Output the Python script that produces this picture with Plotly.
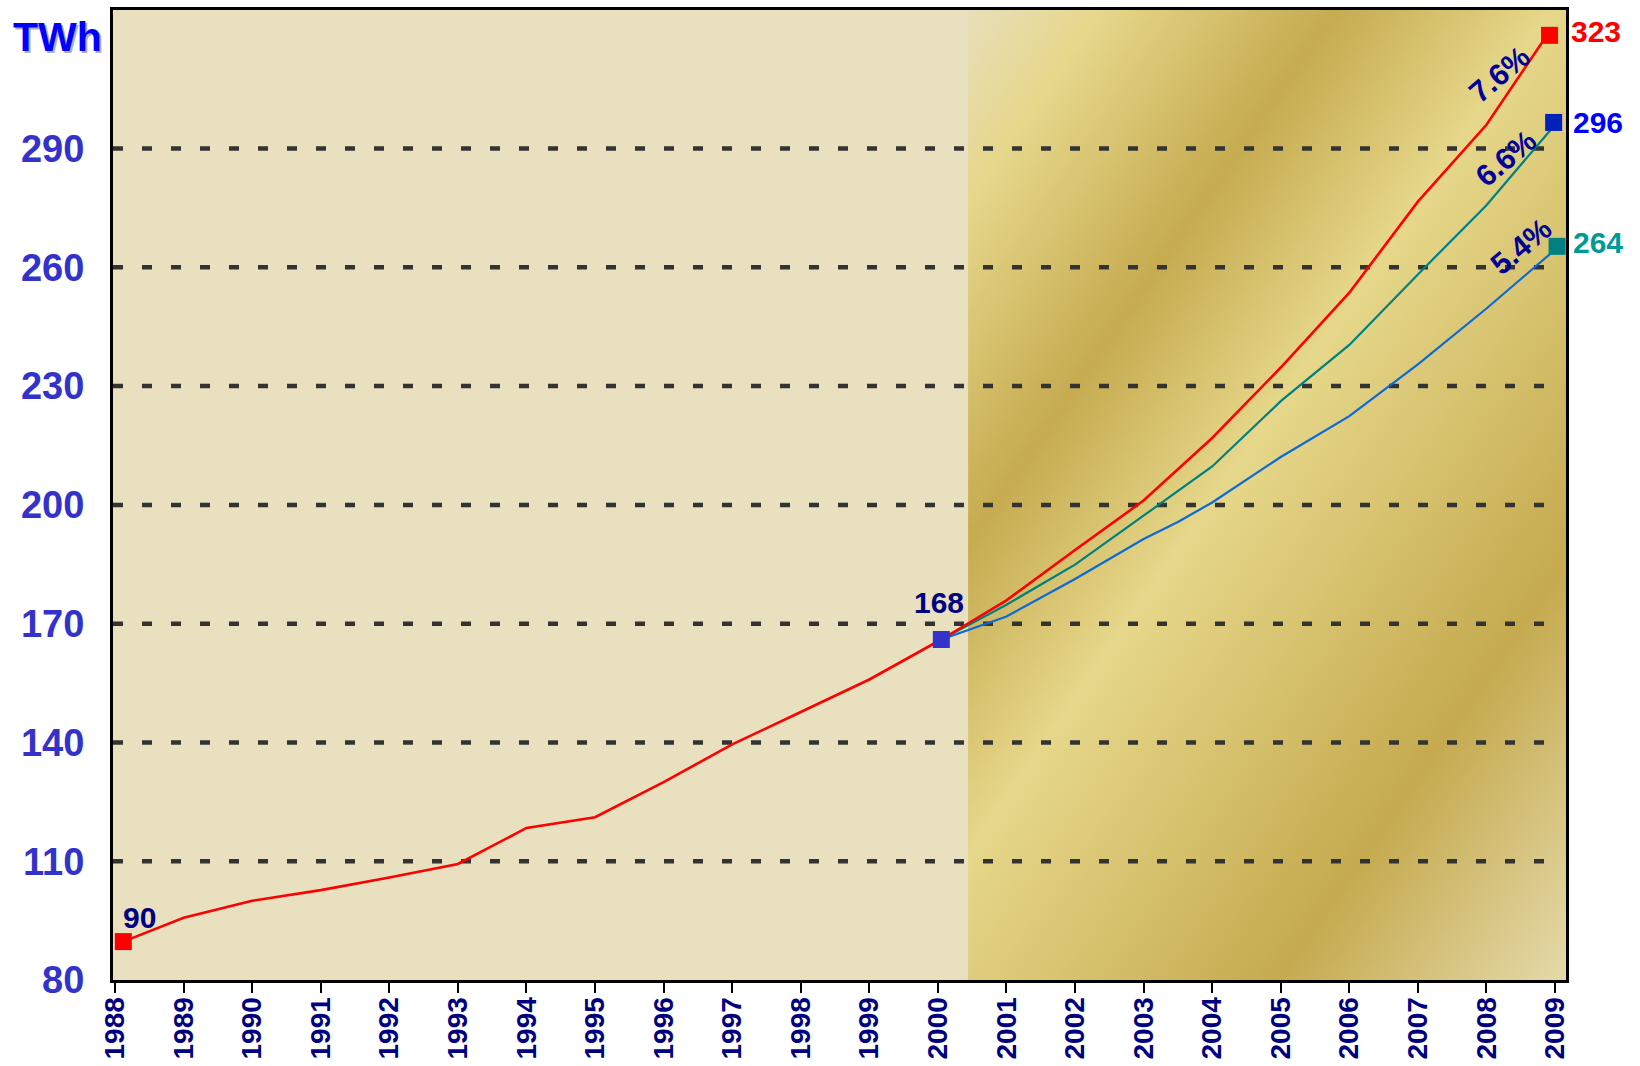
import base64
import plotly.graph_objects as go

# ---------------- data ----------------
hist_years = [1988.12, 1989, 1990, 1991, 1992, 1993, 1994, 1995, 1996, 1997, 1998, 1999, 2000.05]
hist_twh = [89.7, 95.7, 100.0, 102.7, 105.9, 109.3, 118.4, 121.1, 130.0, 139.5, 147.7, 155.9, 166.0]

high_years = [2000.05, 2001, 2002, 2003, 2004, 2005, 2006, 2007, 2008, 2008.85]
high_twh = [166.0, 175.9, 188.6, 201.1, 216.9, 234.7, 253.6, 276.6, 296.0, 317.8]

mid_years = [2000.05, 2001, 2002, 2003, 2004, 2005, 2006, 2007, 2008, 2008.95]
mid_twh = [166.0, 174.8, 184.9, 197.3, 209.7, 226.2, 240.4, 258.2, 275.7, 295.0]

low_years = [2000.05, 2001, 2002, 2003, 2003.5, 2004, 2005, 2006, 2007, 2008, 2008.97]
low_twh = [166.0, 171.8, 181.3, 191.4, 195.7, 200.6, 212.1, 222.4, 235.5, 249.6, 264.0]

end_years = [2008.92, 2008.98, 2009.03]
end_twh = [318.6, 296.6, 265.3]
end_labels = ["323", "296", "264"]
growth_labels = ["7.6%", "6.6%", "5.4%"]
start_label = "90"
base_label = "168"
unit_label = "TWh"

year_ticks = list(range(1988, 2010))
twh_ticks = [80, 110, 140, 170, 200, 230, 260, 290]
grid_twh = [110, 140, 170, 200, 230, 260, 290]

# ---------------- styling ----------------
FONT = "Arial, Liberation Sans, Helvetica, sans-serif"
X_RANGE = [1987.97, 2009.16]
Y_RANGE = [80, 325]
GOLD_START = 2000.44
NAVY = "#000080"

# diagonal gold gradient as svg
W, H = 598, 970
svg = f'''<svg xmlns="http://www.w3.org/2000/svg" width="{W}" height="{H}" viewBox="0 0 {W} {H}" preserveAspectRatio="none">
<defs><linearGradient id="g" gradientUnits="userSpaceOnUse" x1="0" y1="0" x2="858" y2="592">
<stop offset="0" stop-color="#E8DFBA"/>
<stop offset="0.105" stop-color="#E6D78B"/>
<stop offset="0.29" stop-color="#C6AB50"/>
<stop offset="0.46" stop-color="#E6D78A"/>
<stop offset="0.773" stop-color="#C5AA4F"/>
<stop offset="1" stop-color="#E4D9A9"/>
</linearGradient></defs>
<rect x="0" y="0" width="{W}" height="{H}" fill="url(#g)"/>
</svg>'''
svg_uri = "data:image/svg+xml;base64," + base64.b64encode(svg.encode()).decode()

fig = go.Figure()

fig.add_trace(go.Scatter(x=hist_years, y=hist_twh, mode="lines",
                         line=dict(color="#FF0000", width=2.6), hoverinfo="skip"))
fig.add_trace(go.Scatter(x=low_years, y=low_twh, mode="lines",
                         line=dict(color="#0A6AD6", width=2.2), hoverinfo="skip"))
fig.add_trace(go.Scatter(x=mid_years, y=mid_twh, mode="lines",
                         line=dict(color="#008080", width=2.2), hoverinfo="skip"))
fig.add_trace(go.Scatter(x=high_years, y=high_twh, mode="lines",
                         line=dict(color="#FF0000", width=2.6), hoverinfo="skip"))

# markers
fig.add_trace(go.Scatter(x=[hist_years[0]], y=[hist_twh[0]], mode="markers", cliponaxis=False,
                         marker=dict(symbol="square", size=17, color="#FF0000"), hoverinfo="skip"))
fig.add_trace(go.Scatter(x=[hist_years[-1]], y=[hist_twh[-1]], mode="markers", cliponaxis=False,
                         marker=dict(symbol="square", size=17, color="#3333CC"), hoverinfo="skip"))
fig.add_trace(go.Scatter(x=end_years, y=end_twh, mode="markers", cliponaxis=False,
                         marker=dict(symbol="square", size=17, color=["#FF0000", "#0022BB", "#008080"]),
                         hoverinfo="skip"))

# gridlines
shapes = []
for v in grid_twh:
    shapes.append(dict(type="line", xref="x", yref="y", x0=X_RANGE[0], x1=2009.0, y0=v, y1=v,
                       line=dict(color="#333333", width=4.5, dash="10px,19px"), layer="between"))

annotations = []


def ann(x, y, text, size, color, xref="x", yref="y", angle=0, xshift=0, yshift=0):
    annotations.append(dict(x=x, y=y, xref=xref, yref=yref, text=f"<b>{text}</b>",
                            showarrow=False, xanchor="center", yanchor="middle",
                            textangle=angle, xshift=xshift, yshift=yshift,
                            font=dict(family=FONT, size=size, color=color)))


# unit label with shadow
ann(-0.0385, 0.972, unit_label, 41, "#B0B0B0", "paper", "paper", xshift=2, yshift=-2)
ann(-0.0385, 0.972, unit_label, 41, "#0000FF", "paper", "paper")
ann(1988.35, 95.8, start_label, 30, NAVY)
ann(2000.01, 175.4, base_label, 30, NAVY)
end_pos = [(1.0206, 0.978, "#FF0000"), (1.022, 0.884, "#0000FF"), (1.022, 0.760, "#009999")]
for (x, y, c), t in zip(end_pos, end_labels):
    ann(x, y, t, 30, c, "paper", "paper")
grow_pos = [(2008.18, 308.8), (2008.28, 287.4), (2008.50, 265.2)]
for (x, y), t in zip(grow_pos, growth_labels):
    ann(x, y, t, 30, "#000099", angle=-40)

fig.update_layout(
    width=1640, height=1066,
    margin=dict(l=113, r=74, t=10, b=86, autoexpand=False),
    paper_bgcolor="white",
    plot_bgcolor="#E8E0BE",
    showlegend=False,
    shapes=shapes,
    annotations=annotations,
    images=[dict(source=svg_uri, xref="x", yref="y", x=GOLD_START, y=Y_RANGE[1],
                 sizex=X_RANGE[1] - GOLD_START, sizey=Y_RANGE[1] - Y_RANGE[0],
                 xanchor="left", yanchor="top", sizing="stretch", layer="below")],
    xaxis=dict(range=X_RANGE, tickmode="array", tickvals=year_ticks,
               ticktext=[str(y) for y in year_ticks], tickangle=-90,
               ticks="outside", ticklen=10, tickwidth=2, tickcolor="black",
               ticklabelstandoff=-7, automargin=False,
               tickfont=dict(family=FONT, size=28, color=NAVY, weight="bold"),
               showgrid=False, zeroline=False,
               showline=True, linecolor="black", linewidth=3, mirror=True),
    yaxis=dict(range=Y_RANGE, tickmode="array", tickvals=twh_ticks,
               ticktext=[str(v) for v in twh_ticks],
               ticks="outside", ticklen=18, tickcolor="rgba(0,0,0,0)", automargin=False,
               tickfont=dict(family=FONT, size=38, color="#3333CC", weight="bold"),
               showgrid=False, zeroline=False,
               showline=True, linecolor="black", linewidth=3, mirror=True),
)

fig.write_html("out.html")
